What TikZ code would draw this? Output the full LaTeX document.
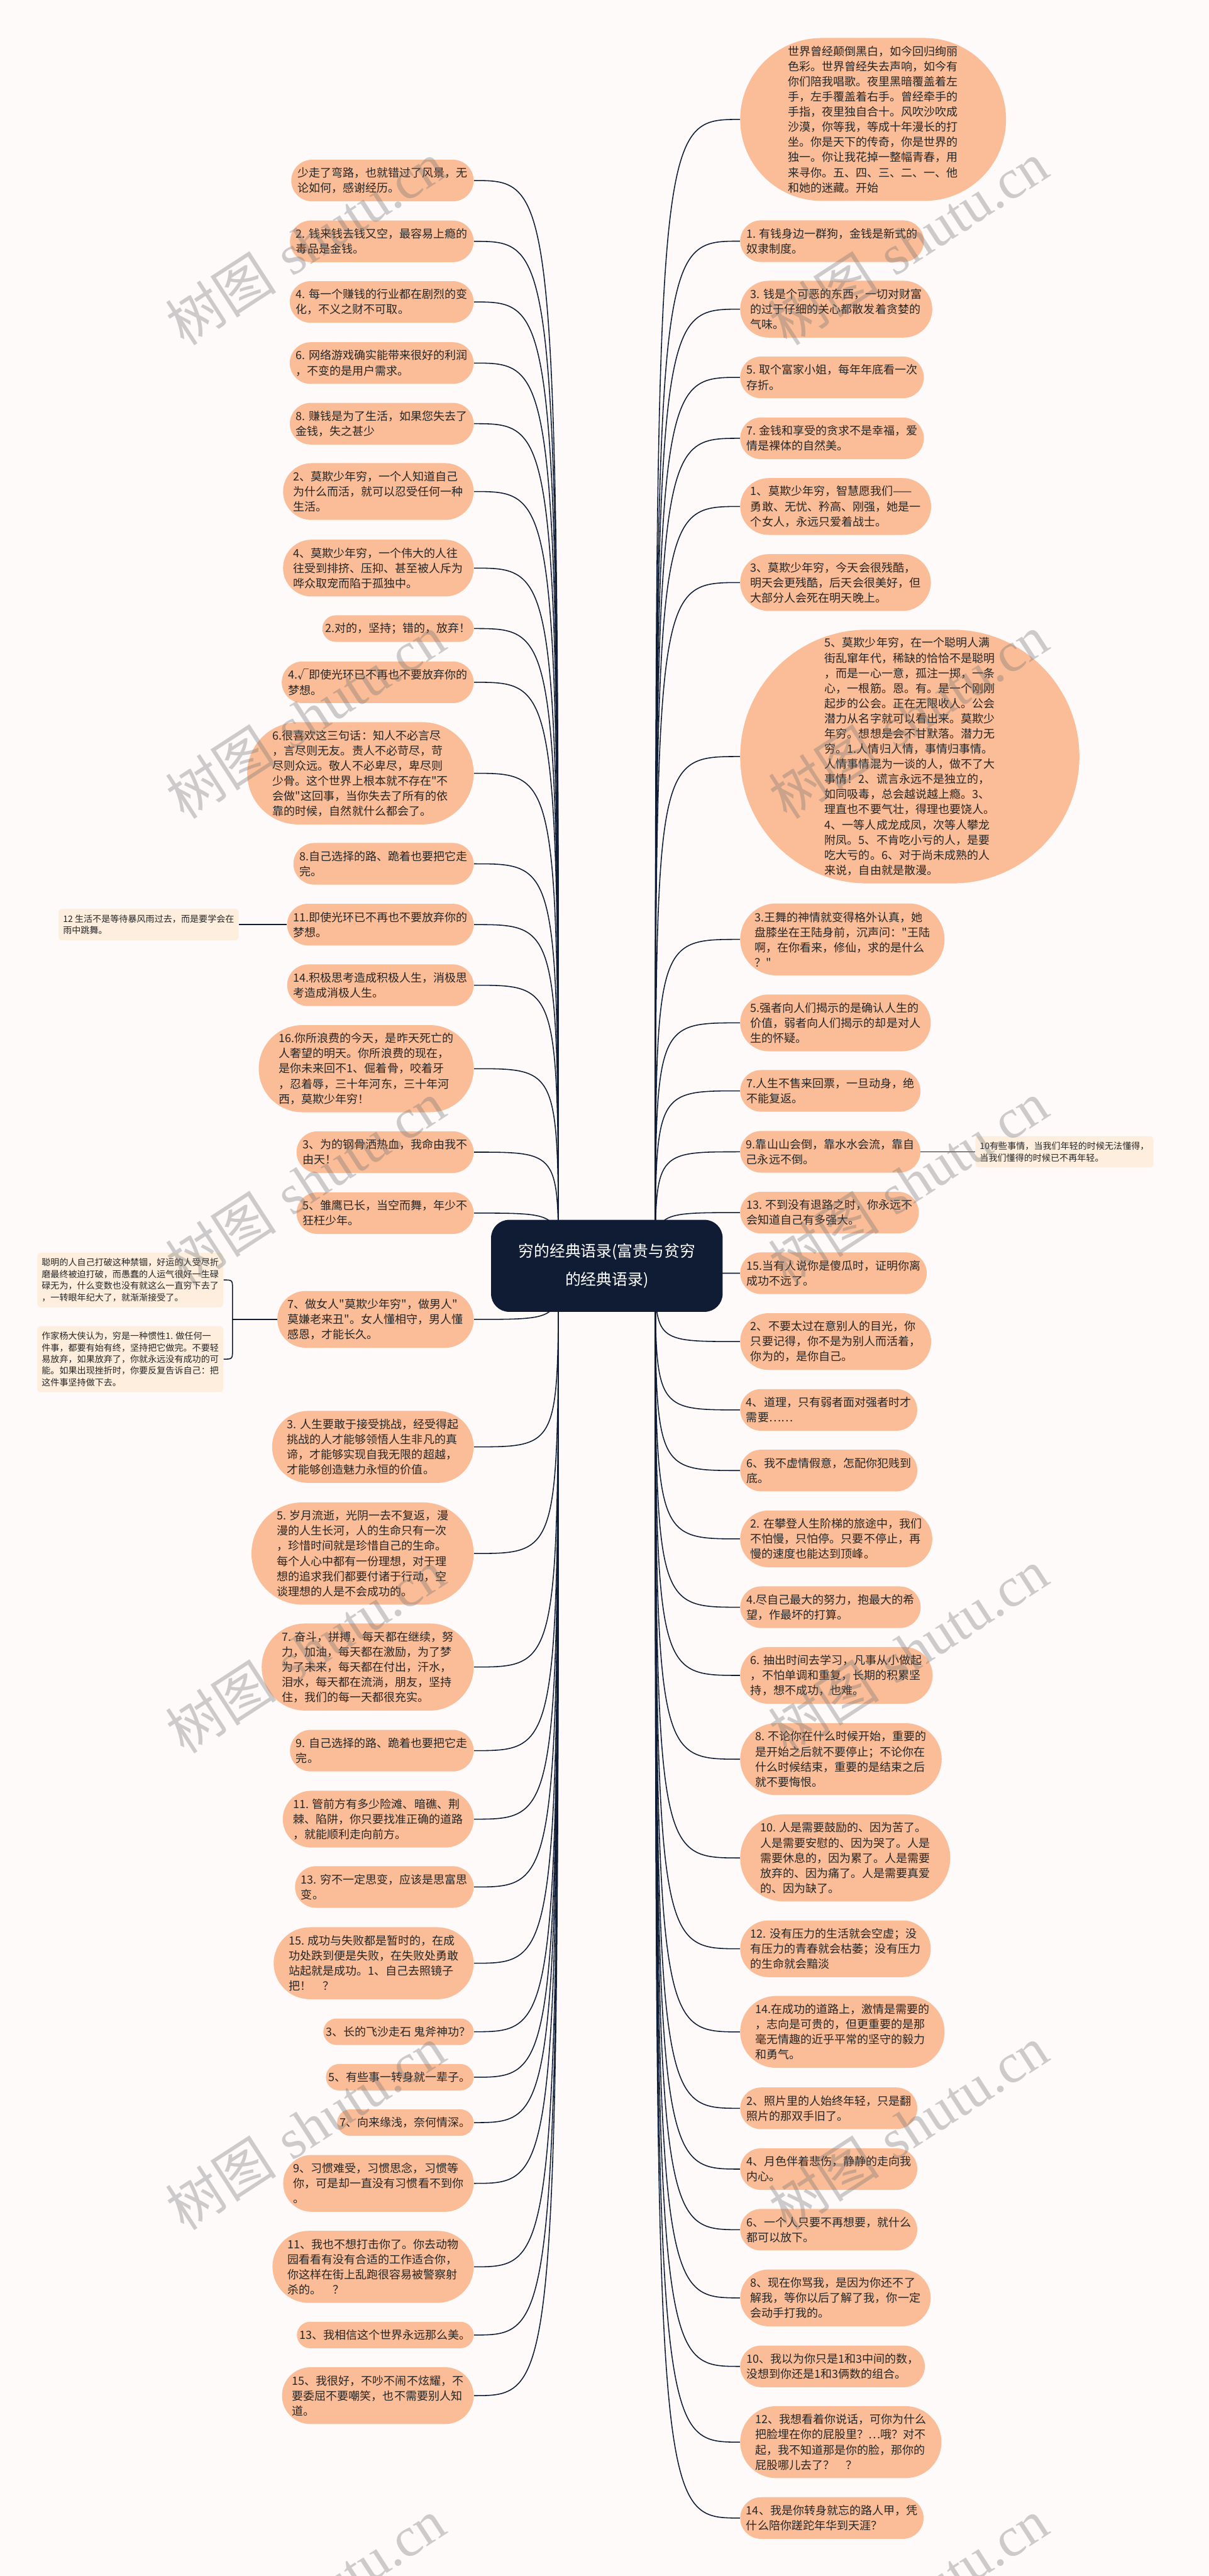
\documentclass[tikz,border=0pt]{standalone}
\usepackage{fontspec}
\newfontfamily\cjk{Noto Sans CJK SC}
\newfontfamily\wmserif{Liberation Serif}
\usetikzlibrary{shapes.misc}
\definecolor{peach}{HTML}{FBBD97}
\definecolor{navy}{HTML}{0F1C33}
\definecolor{notefill}{HTML}{FDEEDD}
\definecolor{bgc}{HTML}{FDFAF9}
\definecolor{txt}{HTML}{262626}
\pgfdeclarelayer{bgl}
\pgfdeclarelayer{lnk}
\pgfsetlayers{bgl,lnk,main}
\begin{document}
\begin{tikzpicture}[x=1pt,y=-1pt,
 leaf/.style={rounded rectangle, fill=peach, inner xsep=1pt, inner ysep=0pt, align=left,
   font=\cjk\fontsize{6.9}{9.22}\selectfont, text=txt, minimum height={6.9pt+9.22pt*#1}},
 lnode/.style={leaf=#1, anchor=east},
 rnode/.style={leaf=#1, anchor=west},
 note/.style={fill=notefill, rounded corners=2pt, align=left, font=\cjk\fontsize{5.39}{7.05}\selectfont,
   inner xsep=2.7pt, inner ysep=0pt, text=txt, minimum height={5pt+7.05pt*#1}},
 rootbox/.style={rounded corners=11pt, fill=navy, text=white, align=center,
   font=\cjk\fontsize{9.5}{17}\selectfont, minimum width=141pt, minimum height=56pt, inner sep=0pt},
 link/.style={draw=navy, line width=0.6pt},
 wm/.style={rotate=33, text=black!55, opacity=0.35, font=\fontsize{34}{34}\selectfont, inner sep=0pt},
]
\useasboundingbox (0,0) rectangle (736,1568);
\begin{pgfonlayer}{bgl}
\fill[bgc] (0,0) rectangle (736,1568);
\end{pgfonlayer}

\node[rootbox] (root) at (369.5,770.5) {穷的经典语录(富贵与贫穷\\的经典语录)};
\coordinate (sl) at (340,770.5);
\coordinate (sr) at (399,770.5);

% left column
\node[lnode=2] (L1) at (288.6,109.9) {少走了弯路，也就错过了风景，无\\论如何，感谢经历。};
\node[lnode=2] (L2) at (288.6,146.9) {2. 钱来钱去钱又空，最容易上瘾的\\毒品是金钱。};
\node[lnode=2] (L3) at (288.6,183.8) {4. 每一个赚钱的行业都在剧烈的变\\化，不义之财不可取。};
\node[lnode=2] (L4) at (288.6,221.0) {6. 网络游戏确实能带来很好的利润\\，不变的是用户需求。};
\node[lnode=2] (L5) at (288.6,257.9) {8. 赚钱是为了生活，如果您失去了\\金钱，失之甚少};
\node[lnode=3] (L6) at (288.6,299.2) {2、莫欺少年穷，一个人知道自己\\为什么而活，就可以忍受任何一种\\生活。};
\node[lnode=3] (L7) at (288.6,345.8) {4、莫欺少年穷，一个伟大的人往\\往受到排挤、压抑、甚至被人斥为\\哗众取宠而陷于孤独中。};
\node[lnode=1] (L8) at (288.6,382.6) {2.对的，坚持；错的，放弃！};
\node[lnode=2] (L9) at (288.6,415.3) {4.√即使光环已不再也不要放弃你的\\梦想。};
\node[lnode=6] (L10) at (288.6,470.7) {6.很喜欢这三句话：知人不必言尽\\，言尽则无友。责人不必苛尽，苛\\尽则众远。敬人不必卑尽，卑尽则\\少骨。这个世界上根本就不存在"不\\会做"这回事，当你失去了所有的依\\靠的时候，自然就什么都会了。};
\node[lnode=2] (L11) at (288.6,525.8) {8.自己选择的路、跪着也要把它走\\完。};
\node[lnode=2] (L12) at (288.6,562.8) {11.即使光环已不再也不要放弃你的\\梦想。};
\node[lnode=2] (L13) at (288.6,599.7) {14.积极思考造成积极人生，消极思\\考造成消极人生。};
\node[lnode=5] (L14) at (288.6,650.5) {16.你所浪费的今天，是昨天死亡的\\人奢望的明天。你所浪费的现在，\\是你未来回不1、倔着骨，咬着牙\\，忍着辱，三十年河东，三十年河\\西，莫欺少年穷！};
\node[lnode=2] (L15) at (288.6,701.3) {3、为的钢骨洒热血，我命由我不\\由天！};
\node[lnode=2] (L16) at (288.6,738.4) {5、雏鹰已长，当空而舞，年少不\\狂枉少年。};
\node[lnode=3] (L17) at (288.6,803.1) {7、做女人"莫欺少年穷"，做男人"\\莫嫌老来丑"。女人懂相守，男人懂\\感恩，才能长久。};
\node[lnode=4] (L18) at (288.6,880.7) {3. 人生要敢于接受挑战，经受得起\\挑战的人才能够领悟人生非凡的真\\谛，才能够实现自我无限的超越，\\才能够创造魅力永恒的价值。};
\node[lnode=6] (L19) at (288.6,945.6) {5. 岁月流逝，光阴一去不复返，漫\\漫的人生长河，人的生命只有一次\\，珍惜时间就是珍惜自己的生命。\\每个人心中都有一份理想，对于理\\想的追求我们都要付诸于行动，空\\谈理想的人是不会成功的。};
\node[lnode=5] (L20) at (288.6,1014.7) {7. 奋斗，拼搏，每天都在继续，努\\力，加油，每天都在激励，为了梦\\为了未来，每天都在付出，汗水，\\泪水，每天都在流淌，朋友，坚持\\住，我们的每一天都很充实。};
\node[lnode=2] (L21) at (288.6,1065.6) {9. 自己选择的路、跪着也要把它走\\完。};
\node[lnode=3] (L22) at (288.6,1107.3) {11. 管前方有多少险滩、暗礁、荆\\棘、陷阱，你只要找准正确的道路\\，就能顺利走向前方。};
\node[lnode=2] (L23) at (288.6,1148.6) {13. 穷不一定思变，应该是思富思\\变。};
\node[lnode=4] (L24) at (288.6,1195.0) {15. 成功与失败都是暂时的，在成\\功处跌到便是失败，在失败处勇敢\\站起就是成功。1、自己去照镜子\\把！　？};
\node[lnode=1] (L25) at (288.6,1236.7) {3、长的飞沙走石 鬼斧神功？};
\node[lnode=1] (L26) at (288.6,1264.4) {5、有些事一转身就一辈子。};
\node[lnode=1] (L27) at (288.6,1292.0) {7、向来缘浅，奈何情深。};
\node[lnode=3] (L28) at (288.6,1329.0) {9、习惯难受，习惯思念，习惯等\\你，可是却一直没有习惯看不到你\\。};
\node[lnode=4] (L29) at (288.6,1379.8) {11、我也不想打击你了。你去动物\\园看看有没有合适的工作适合你，\\你这样在街上乱跑很容易被警察射\\杀的。　？};
\node[lnode=1] (L30) at (288.6,1421.3) {13、我相信这个世界永远那么美。};
\node[lnode=3] (L31) at (288.6,1458.2) {15、我很好，不吵不闹不炫耀，不\\要委屈不要嘲笑，也不需要别人知\\道。};

% right column
\node[rnode=10] (R1) at (450.5,72.7) {世界曾经颠倒黑白，如今回归绚丽\\色彩。世界曾经失去声响，如今有\\你们陪我唱歌。夜里黑暗覆盖着左\\手，左手覆盖着右手。曾经牵手的\\手指，夜里独自合十。风吹沙吹成\\沙漠，你等我，等成十年漫长的打\\坐。你是天下的传奇，你是世界的\\独一。你让我花掉一整幅青春，用\\来寻你。五、四、三、二、一、他\\和她的迷藏。开始};
\node[rnode=2] (R2) at (450.5,146.8) {1. 有钱身边一群狗，金钱是新式的\\奴隶制度。};
\node[rnode=3] (R3) at (450.5,188.2) {3. 钱是个可恶的东西，一切对财富\\的过于仔细的关心都散发着贪婪的\\气味。};
\node[rnode=2] (R4) at (450.5,229.7) {5. 取个富家小姐，每年年底看一次\\存折。};
\node[rnode=2] (R5) at (450.5,266.8) {7. 金钱和享受的贪求不是幸福，爱\\情是裸体的自然美。};
\node[rnode=3] (R6) at (450.5,308.3) {1、莫欺少年穷，智慧愿我们——\\勇敢、无忧、矜高、刚强，她是一\\个女人，永远只爱着战士。};
\node[rnode=3] (R7) at (450.5,354.6) {3、莫欺少年穷，今天会很残酷，\\明天会更残酷，后天会很美好，但\\大部分人会死在明天晚上。};
\node[rnode=16] (R8) at (450.5,460.5) {5、莫欺少年穷，在一个聪明人满\\街乱窜年代，稀缺的恰恰不是聪明\\，而是一心一意，孤注一掷，一条\\心，一根筋。恩。有。是一个刚刚\\起步的公会。正在无限收人。公会\\潜力从名字就可以看出来。莫欺少\\年穷。想想是会不甘默落。潜力无\\穷。1.人情归人情，事情归事情。\\人情事情混为一谈的人，做不了大\\事情！2、谎言永远不是独立的，\\如同吸毒，总会越说越上瘾。3、\\理直也不要气壮，得理也要饶人。\\4、一等人成龙成凤，次等人攀龙\\附凤。5、不肯吃小亏的人，是要\\吃大亏的。6、对于尚未成熟的人\\来说，自由就是散漫。};
\node[rnode=4] (R9) at (450.5,571.8) {3.王舞的神情就变得格外认真，她\\盘膝坐在王陆身前，沉声问："王陆\\啊，在你看来，修仙，求的是什么\\？"};
\node[rnode=3] (R10) at (450.5,622.6) {5.强者向人们揭示的是确认人生的\\价值，弱者向人们揭示的却是对人\\生的怀疑。};
\node[rnode=2] (R11) at (450.5,664.0) {7.人生不售来回票，一旦动身，绝\\不能复返。};
\node[rnode=2] (R12) at (450.5,701.1) {9.靠山山会倒，靠水水会流，靠自\\己永远不倒。};
\node[rnode=2] (R13) at (450.5,738.1) {13. 不到没有退路之时，你永远不\\会知道自己有多强大。};
\node[rnode=2] (R14) at (450.5,775.0) {15.当有人说你是傻瓜时，证明你离\\成功不远了。};
\node[rnode=3] (R15) at (450.5,816.6) {2、不要太过在意别人的目光，你\\只要记得，你不是为别人而活着，\\你为的，是你自己。};
\node[rnode=2] (R16) at (450.5,858.2) {4、道理，只有弱者面对强者时才\\需要……};
\node[rnode=2] (R17) at (450.5,895.1) {6、我不虚情假意，怎配你犯贱到\\底。};
\node[rnode=3] (R18) at (450.5,936.7) {2. 在攀登人生阶梯的旅途中，我们\\不怕慢，只怕停。只要不停止，再\\慢的速度也能达到顶峰。};
\node[rnode=2] (R19) at (450.5,978.3) {4.尽自己最大的努力，抱最大的希\\望，作最坏的打算。};
\node[rnode=3] (R20) at (450.5,1019.8) {6. 抽出时间去学习，凡事从小做起\\，不怕单调和重复，长期的积累坚\\持，想不成功，也难。};
\node[rnode=4] (R21) at (450.5,1070.8) {8. 不论你在什么时候开始，重要的\\是开始之后就不要停止；不论你在\\什么时候结束，重要的是结束之后\\就不要悔恨。};
\node[rnode=5] (R22) at (450.5,1130.9) {10. 人是需要鼓励的、因为苦了。\\人是需要安慰的、因为哭了。人是\\需要休息的，因为累了。人是需要\\放弃的、因为痛了。人是需要真爱\\的、因为缺了。};
\node[rnode=3] (R23) at (450.5,1186.2) {12. 没有压力的生活就会空虚；没\\有压力的青春就会枯萎；没有压力\\的生命就会黯淡};
\node[rnode=4] (R24) at (450.5,1236.8) {14.在成功的道路上，激情是需要的\\，志向是可贵的，但更重要的是那\\毫无情趣的近乎平常的坚守的毅力\\和勇气。};
\node[rnode=2] (R25) at (450.5,1283.3) {2、照片里的人始终年轻，只是翻\\照片的那双手旧了。};
\node[rnode=2] (R26) at (450.5,1320.3) {4、月色伴着悲伤，静静的走向我\\内心。};
\node[rnode=2] (R27) at (450.5,1357.2) {6、一个人只要不再想要，就什么\\都可以放下。};
\node[rnode=3] (R28) at (450.5,1398.7) {8、现在你骂我，是因为你还不了\\解我，等你以后了解了我，你一定\\会动手打我的。};
\node[rnode=2] (R29) at (450.5,1440.4) {10、我以为你只是1和3中间的数，\\没想到你还是1和3俩数的组合。};
\node[rnode=4] (R30) at (450.5,1486.5) {12、我想看着你说话，可你为什么\\把脸埋在你的屁股里？…哦？对不\\起，我不知道那是你的脸，那你的\\屁股哪儿去了？　？};
\node[rnode=2] (R31) at (450.5,1532.7) {14、我是你转身就忘的路人甲，凭\\什么陪你蹉跎年华到天涯？};

% side notes
\node[note=2, anchor=east] (n12) at (145.5,562.8) {12 生活不是等待暴风雨过去，而是要学会在\\雨中跳舞。};
\node[note=4, anchor=east] (nA) at (136.1,779.1) {聪明的人自己打破这种禁锢，好运的人受尽折\\磨最终被迫打破，而愚蠢的人运气很好一生碌\\碌无为，什么变数也没有就这么一直穷下去了\\，一转眼年纪大了，就渐渐接受了。};
\node[note=5, anchor=east] (nB) at (136.1,827.3) {作家杨大侠认为，穷是一种惯性1. 做任何一\\件事，都要有始有终，坚持把它做完。不要轻\\易放弃，如果放弃了，你就永远没有成功的可\\能。如果出现挫折时，你要反复告诉自己：把\\这件事坚持做下去。};
\node[note=2, anchor=west] (n10) at (593.7,701.1) {10有些事情，当我们年轻的时候无法懂得，\\当我们懂得的时候已不再年轻。};
\coordinate (sp) at (141.6,803.1);

\begin{pgfonlayer}{lnk}
\foreach \i in {1,...,31}{
  \draw[link] (sl) .. controls (sl |- L\i.east) .. (L\i.east);
  \draw[link] (sr) .. controls (sr |- R\i.west) .. (R\i.west);
}
\draw[link] (L12.west) -- (n12.east);
\draw[link] (R12.east) -- (n10.west);
\draw[link] (nA.east) .. controls (sp |- nA.east) .. (141.6,785) -- (141.6,821) .. controls (sp |- nB.east) .. (nB.east);
\draw[link] (sp) -- (L17.west);
\end{pgfonlayer}

% watermarks
\begin{scope}
\clip (0,0) rectangle (736,1568);
\foreach \y [count=\k] in {148,436,720,1005,1295,1583}{
  \node[wm] (wl\k) at (186,\y) {{\cjk 树图} {\wmserif shutu.cn}};
  \node[wm] (wr\k) at (553,\y) {{\cjk 树图} {\wmserif shutu.cn}};
}
\end{scope}
\end{tikzpicture}
\end{document}
